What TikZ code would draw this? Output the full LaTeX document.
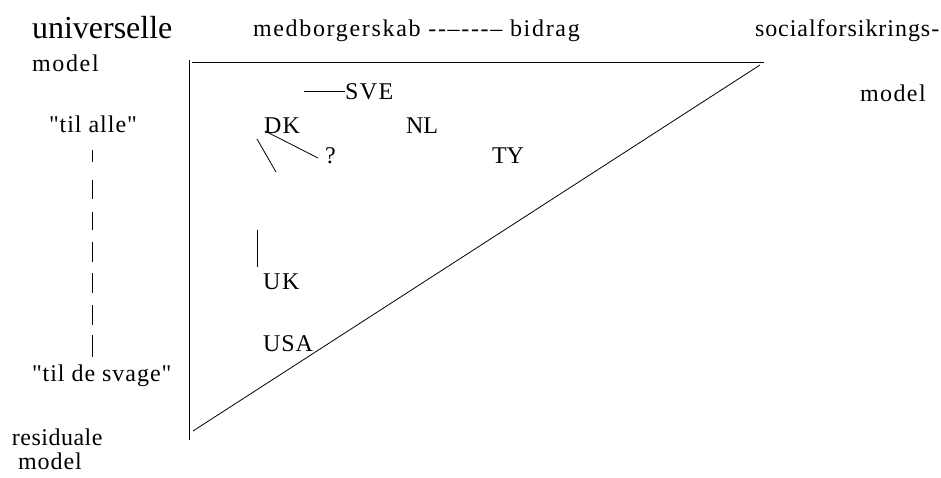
\documentclass[tikz,border=0pt]{standalone}
\usepackage{fontspec}
\setmainfont{Liberation Serif}[Ligatures=TeXOff]
\begin{document}
\begin{tikzpicture}[x=1pt,y=-1pt,
  lbl/.style={inner sep=0pt, outer sep=0pt, anchor=base west},
  sm/.style={lbl, font=\fontsize{24}{26}\selectfont\addfontfeature{LetterSpace=#1}},
  ln/.style={line width=0.8pt, black}]
\path[use as bounding box] (0,0) rectangle (941,477);
% texts
\node[lbl, font=\fontsize{32}{34}\selectfont] (univ) at (32,38) {universelle};
\node[sm=7] (model1) at (32,71) {model};
\node[sm=7] (axis) at (253,36) {medborgerskab --–---– bidrag};
\node[sm=4] (social) at (755,36) {socialforsikrings-};
\node[sm=6] (model2) at (860,101) {model};
\node[sm=4] (alle) at (49,132) {"til alle"};
\node[sm=4] (svage) at (32,381) {"til de svage"};
\node[sm=2] (resid) at (12,445) {residuale};
\node[sm=4] (model3) at (18,469) {model};
% countries
\node[sm=6] (sve) at (345,99) {SVE};
\node[sm=5] (dk) at (264,133) {DK};
\node[sm=0] (nl) at (406,133) {NL};
\node[sm=0] (q) at (325,163) {?};
\node[sm=0] (ty) at (492,163) {TY};
\node[sm=8] (uk) at (263,289) {UK};
\node[sm=4] (usa) at (263,351) {USA};
% triangle
\coordinate (tl) at (189,60);
\coordinate (bl) at (189,440);
\coordinate (h0) at (192,62);
\coordinate (h1) at (764,62);
\coordinate (d0) at (193,431);
\coordinate (d1) at (760,65);
\draw[ln] (tl) -- (bl);
\draw[ln] (h0) -- (h1);
\draw[ln] (d0) -- (d1);
% small marks
\coordinate (s0) at (304,91);
\draw[ln] (s0) -- (sve.west |- s0);
\coordinate (k0) at (265,131);
\coordinate (k1) at (318,158);
\draw[ln] (k0) -- (k1);
\coordinate (m0) at (257,139);
\coordinate (m1) at (276,172);
\draw[ln] (m0) -- (m1);
\coordinate (u0) at (257,230);
\coordinate (u1) at (257,267);
\draw[ln] (u0) -- (u1);
% vertical bar column
\foreach \a/\b in {150/162,180/199,212/230,242/262,273/293,305/325,335/357}
  \draw[ln] (92,\a) -- (92,\b);
\end{tikzpicture}
\end{document}
